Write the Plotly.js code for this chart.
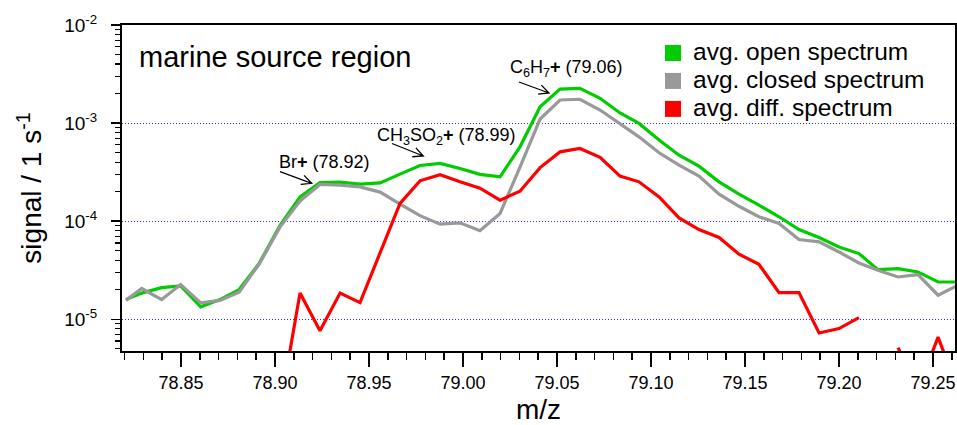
<!DOCTYPE html>
<html><head><meta charset="utf-8">
<script src="https://cdn.plot.ly/plotly-3.0.1.min.js"></script>
<style>html,body{margin:0;padding:0;background:#fff;}#chart{width:957px;height:425px;}</style>
</head><body><div id="chart"></div>
<script>
// m/z of each sample point
const mz = [78.8207, 78.8291, 78.8397, 78.8498, 78.8605, 78.8707, 78.8809, 78.8915, 78.9027, 78.9133,
            78.9239, 78.9346, 78.9452, 78.9559, 78.9665, 78.9771, 78.9878, 78.9984, 79.0090, 79.0197,
            79.0303, 79.0410, 79.0516, 79.0622, 79.0729, 79.0835, 79.0936, 79.1043, 79.1149, 79.1255,
            79.1362, 79.1468, 79.1574, 79.1681, 79.1787, 79.1894, 79.2000, 79.2106, 79.2207, 79.2314,
            79.2420, 79.2527, 79.2633];
// avg. open spectrum
const openSpec = [1.59e-5, 1.85e-5, 2.10e-5, 2.19e-5, 1.34e-5, 1.59e-5, 2.01e-5, 3.70e-5, 9.10e-5, 1.77e-4,
                  2.48e-4, 2.50e-4, 2.39e-4, 2.46e-4, 3.02e-4, 3.70e-4, 3.88e-4, 3.45e-4, 3.00e-4, 2.83e-4,
                  5.73e-4, 1.47e-3, 2.22e-3, 2.26e-3, 1.79e-3, 1.27e-3, 9.93e-4, 6.71e-4, 4.71e-4, 3.64e-4,
                  2.52e-4, 1.89e-4, 1.46e-4, 1.11e-4, 8.23e-5, 6.82e-5, 5.47e-5, 4.68e-5, 3.21e-5, 3.29e-5,
                  3.04e-5, 2.40e-5, 2.40e-5];
// avg. closed spectrum
const closedSpec = [1.56e-5, 2.06e-5, 1.59e-5, 2.26e-5, 1.47e-5, 1.56e-5, 1.89e-5, 3.64e-5, 8.75e-5, 1.61e-4,
                    2.37e-4, 2.33e-4, 2.24e-4, 1.98e-4, 1.49e-4, 1.14e-4, 9.32e-5, 9.62e-5, 8.00e-5, 1.20e-4,
                    3.56e-4, 1.10e-3, 1.72e-3, 1.75e-3, 1.36e-3, 9.93e-4, 7.25e-4, 4.98e-4, 3.73e-4, 2.88e-4,
                    1.89e-4, 1.42e-4, 1.11e-4, 9.47e-5, 6.50e-5, 6.15e-5, 4.86e-5, 3.75e-5, 3.16e-5, 2.70e-5,
                    2.86e-5, 1.76e-5, 2.22e-5];
// avg. diff. spectrum (null = non-positive, not drawn on log scale)
const diffSpec = [null, null, null, null, null, null, null, null, 1.26e-6, 1.85e-5,
                  7.63e-6, 1.85e-5, 1.48e-5, 4.71e-5, 1.52e-4, 2.58e-4, 2.98e-4, 2.52e-4, 2.17e-4, 1.64e-4,
                  2.02e-4, 3.52e-4, 5.09e-4, 5.52e-4, 4.47e-4, 2.88e-4, 2.52e-4, 1.77e-4, 1.08e-4, 8.23e-5,
                  6.82e-5, 4.61e-5, 3.64e-5, 1.87e-5, 1.87e-5, 7.25e-6, 8.04e-6, 1.04e-5, null, 5.14e-6,
                  1.9e-6, 6.59e-6, 1.9e-6];
const seriesNames = ['avg. open spectrum', 'avg. closed spectrum', 'avg. diff. spectrum'];
const yTickVals = [1e-5, 1e-4, 1e-3, 1e-2];
const yTickText = ['10<sup>-5</sup>', '10<sup>-4</sup>', '10<sup>-3</sup>', '10<sup>-2</sup>'];

const FONT = 'Liberation Sans, Arial, sans-serif';
const W = 957, H = 425, ML = 122, MR = 2, MT = 25, MB = 74;
const pw = W - ML - MR, ph = H - MT - MB;
const fx = x => (x - ML) / pw;
const fy = y => (H - MB - y) / ph;

const colors = ['#00cc00', '#999999', '#ff0000'];
const ys = [openSpec, closedSpec, diffSpec];

const traces = ys.map((y, i) => ({
  x: mz, y: y, type: 'scatter', mode: 'lines', name: seriesNames[i],
  line: {color: colors[i], width: 3.2}, connectgaps: false, showlegend: false
}));
seriesNames.forEach((n, i) => traces.push({
  x: [null], y: [null], type: 'scatter', mode: 'markers', name: '<span style="font-size:24.5px">' + n + '</span>',
  marker: {symbol: 'square', size: 16, color: colors[i]}, showlegend: true, hoverinfo: 'skip'
}));

// minor log ticks
const minorVals = [];
for (let e = -6; e <= -3; e++) for (let k = 2; k <= 9; k++) minorVals.push(k * Math.pow(10, e));

function arrow(x0, y0, x1, y1) {
  const dx = x1 - x0, dy = y1 - y0, len = Math.hypot(dx, dy), ux = dx / len, uy = dy / len;
  const Lw = 11, a = 0.45;
  const w = s => [x1 - Lw * (ux * Math.cos(s * a) - uy * Math.sin(s * a)),
                  y1 - Lw * (uy * Math.cos(s * a) + ux * Math.sin(s * a))];
  const p1 = w(1), p2 = w(-1);
  return {type: 'path', xref: 'paper', yref: 'paper', line: {color: 'black', width: 1.3},
    path: `M ${fx(x0)} ${fy(y0)} L ${fx(x1)} ${fy(y1)} M ${fx(p1[0])} ${fy(p1[1])} L ${fx(x1)} ${fy(y1)} L ${fx(p2[0])} ${fy(p2[1])}`};
}

const ann = (text, x, y, size, anchor) => ({text, xref: 'paper', yref: 'paper', x: fx(x), y: fy(y),
  xanchor: anchor || 'left', yanchor: 'middle', showarrow: false, font: {family: FONT, size, color: 'black'}});
const PLUS = '<b>+</b>';

const layout = {
  width: W, height: H, margin: {l: ML, r: MR, t: MT, b: MB},
  paper_bgcolor: 'white', plot_bgcolor: 'white',
  font: {family: FONT, color: 'black'},
  xaxis: {
    range: [78.8186, 79.2617], showline: true, linecolor: 'black', linewidth: 2, mirror: true,
    ticks: 'outside', ticklen: 14, tickwidth: 1.5, tickcolor: 'black', tick0: 78.85, dtick: 0.05,
    tickformat: '.2f', tickfont: {size: 18, family: FONT}, showgrid: false, zeroline: false,
    minor: {tick0: 78.85, dtick: 0.01, ticks: 'outside', ticklen: 7, tickwidth: 1.5, tickcolor: 'black', showgrid: false},
    title: {text: 'm/z', font: {size: 28, family: FONT}, standoff: 8}
  },
  yaxis: {
    type: 'log', range: [-5.323, -2], showline: true, linecolor: 'black', linewidth: 2, mirror: true,
    ticks: 'outside', ticklen: 9, tickwidth: 1.5, tickcolor: 'black',
    tickmode: 'array', tickvals: yTickVals, ticktext: yTickText, tickfont: {size: 19, family: FONT},
    ticklabelstandoff: 10,
    minor: {tickmode: 'array', tickvals: minorVals, ticks: 'outside', ticklen: 5, tickwidth: 1.2, tickcolor: 'black', showgrid: false},
    showgrid: true, gridcolor: '#2a2aff', griddash: '1px,2px', gridwidth: 1, zeroline: false,
    title: {text: 'signal / 1 s<sup>-1</sup>', font: {size: 28, family: FONT}, standoff: 14}
  },
  showlegend: true,
  legend: {x: fx(653), xanchor: 'left', y: fy(34), yanchor: 'top', font: {size: 19.2, family: FONT},
    bgcolor: 'rgba(0,0,0,0)', borderwidth: 0, tracegroupgap: 0, itemwidth: 30},
  annotations: [
    ann('marine source region', 137, 57, 29),
    ann('Br' + PLUS + ' (78.92)', 277, 162, 18),
    ann('CH<sub>3</sub>SO<sub>2</sub>' + PLUS + ' (78.99)', 375, 136, 18),
    ann('C<sub>6</sub>H<sub>7</sub>' + PLUS + ' (79.06)', 508, 68, 18)
  ],
  shapes: [
    arrow(280, 171.7, 311.7, 183.3),
    arrow(392, 143.5, 423.3, 156),
    arrow(519, 82, 549, 93)
  ]
};

Plotly.newPlot('chart', traces, layout, {displayModeBar: false, staticPlot: true});
</script>
</body></html>
